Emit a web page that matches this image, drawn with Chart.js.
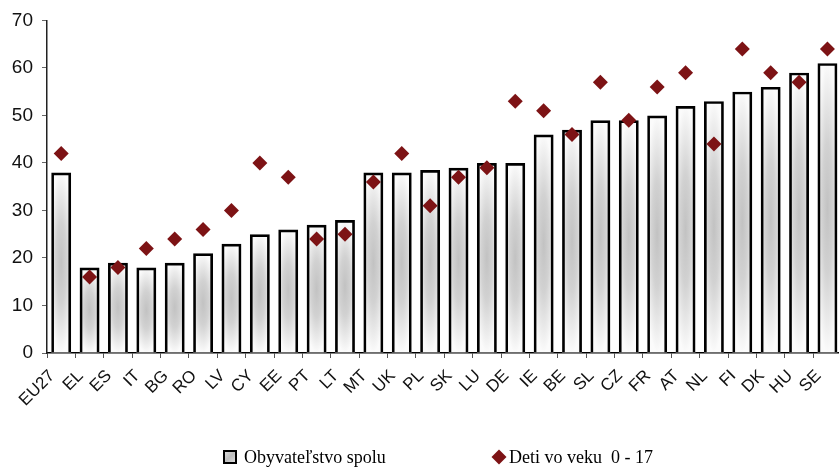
<!DOCTYPE html>
<html>
<head>
<meta charset="utf-8">
<script src="https://cdn.jsdelivr.net/npm/chart.js@4/dist/chart.umd.min.js"></script>
<style>
  html, body { margin: 0; padding: 0; background: #ffffff; overflow: hidden; }
  #wrap { position: relative; width: 850px; height: 469px; }
</style>
</head>
<body>
<div id="wrap"><canvas id="c"></canvas></div>
<script>
// Countries (EU27 average first)
const countries = ['EU27','EL','ES','IT','BG','RO','LV','CY','EE','PT','LT','MT','UK','PL','SK','LU','DE','IE','BE','SL','CZ','FR','AT','NL','FI','DK','HU','SE'];
// Whole population
const populationTotal = [38,18,19,18,19,21,23,25,26,27,28,38,38,38.5,39,40,40,46,47,49,49,50,52,53,55,56,59,61];
// Children aged 0 - 17
const children0to17 = [42,16,18,22,24,26,30,40,37,24,25,36,42,31,37,39,53,51,46,57,49,56,59,44,64,59,57,64];
// Y axis range
const yTicks = { min: 0, max: 70, step: 10 };

const seriesNames = ['Obyvateľstvo spolu', 'Deti vo veku  0 - 17'];
const diamondColor = '#7d1315';

// Shaded fill behind each bar: grey core fading to white at the edges
const barShading = {
  id: 'barShading',
  beforeDatasetsDraw(chart) {
    const meta = chart.getDatasetMeta(1);
    const ctx = chart.ctx;
    meta.data.forEach(el => {
      const p = el.getProps(['x', 'y', 'base', 'width'], true);
      const left = p.x - p.width / 2;
      const top = Math.min(p.y, p.base);
      const h = Math.abs(p.base - p.y);
      ctx.save();
      ctx.beginPath();
      ctx.rect(left, top, p.width, h);
      ctx.clip();
      ctx.fillStyle = '#fbfbfb';
      ctx.fillRect(left, top, p.width, h);
      ctx.translate(p.x, top + h * 0.5);
      ctx.scale(p.width * 0.62, h * 0.5);
      const g = ctx.createRadialGradient(0, 0, 0, 0, 0, 1);
      g.addColorStop(0, '#c2c2c2');
      g.addColorStop(0.45, '#d2d2d2');
      g.addColorStop(0.8, '#ececec');
      g.addColorStop(1, '#fbfbfb');
      ctx.fillStyle = g;
      ctx.fillRect(-1, -1, 2, 2);
      ctx.restore();
    });
  }
};

// Legend row below the axis labels
const bottomLegend = {
  id: 'bottomLegend',
  afterDraw(chart) {
    const ctx = chart.ctx;
    ctx.save();
    // bar swatch
    const bx = 223, by = 450, bs = 14;
    const g = ctx.createLinearGradient(bx, by, bx + bs, by + bs);
    g.addColorStop(0, '#e6e6e6');
    g.addColorStop(0.5, '#bdbdbd');
    g.addColorStop(1, '#e6e6e6');
    ctx.fillStyle = g;
    ctx.fillRect(bx, by, bs, bs);
    ctx.strokeStyle = '#000';
    ctx.lineWidth = 2;
    ctx.strokeRect(bx + 1, by + 1, bs - 2, bs - 2);
    ctx.font = '18px "Liberation Serif", "Times New Roman", serif';
    ctx.fillStyle = '#000';
    ctx.textBaseline = 'alphabetic';
    ctx.textAlign = 'left';
    ctx.fillText(seriesNames[0], 244, 463);
    // diamond swatch
    const dx = 499, dy = 457, r = 7.5;
    ctx.beginPath();
    ctx.moveTo(dx - r, dy);
    ctx.lineTo(dx, dy - r);
    ctx.lineTo(dx + r, dy);
    ctx.lineTo(dx, dy + r);
    ctx.closePath();
    ctx.fillStyle = diamondColor;
    ctx.fill();
    ctx.fillStyle = '#000';
    ctx.fillText(seriesNames[1], 509, 463);
    ctx.restore();
  }
};

new Chart(document.getElementById('c'), {
  data: {
    labels: countries,
    datasets: [
      {
        type: 'line',
        label: seriesNames[1],
        data: children0to17,
        showLine: false,
        pointStyle: 'rectRot',
        pointRadius: 7.5,
        pointHoverRadius: 7.5,
        pointBackgroundColor: diamondColor,
        pointBorderColor: diamondColor,
        pointBorderWidth: 0,
        order: 1
      },
      {
        type: 'bar',
        label: seriesNames[0],
        data: populationTotal,
        backgroundColor: 'rgba(0,0,0,0)',
        borderColor: '#000000',
        borderWidth: 2.7,
        borderSkipped: 'start',
        barPercentage: 0.7,
        categoryPercentage: 1.0,
        order: 2
      }
    ]
  },
  options: {
    responsive: true,
    maintainAspectRatio: false,
    devicePixelRatio: 1,
    animation: false,
    layout: { padding: { left: 0, right: 2, top: 20, bottom: 0 } },
    plugins: {
      legend: { display: false },
      tooltip: { enabled: false }
    },
    scales: {
      x: {
        offset: true,
        grid: {
          display: true,
          offset: true,
          drawOnChartArea: false,
          drawTicks: true,
          tickLength: 5,
          color: '#555555'
        },
        border: { display: true, color: '#000000', width: 1.5 },
        ticks: {
          autoSkip: false,
          maxRotation: 45,
          minRotation: 45,
          padding: 8,
          labelOffset: -9,
          color: '#111111',
          font: { family: '"Liberation Sans", Arial, sans-serif', size: 17 }
        },
        afterFit(scale) { scale.height = 116; }
      },
      y: {
        min: yTicks.min,
        max: yTicks.max,
        ticks: {
          stepSize: yTicks.step,
          padding: 9,
          color: '#111111',
          font: { family: '"Liberation Sans", Arial, sans-serif', size: 19 }
        },
        grid: {
          display: true,
          drawOnChartArea: false,
          drawTicks: true,
          tickLength: 5,
          color: '#666666'
        },
        border: { display: true, color: '#222222', width: 1.5 },
        afterFit(scale) { scale.width = 47; }
      }
    }
  },
  plugins: [barShading, bottomLegend]
});
</script>
</body>
</html>
